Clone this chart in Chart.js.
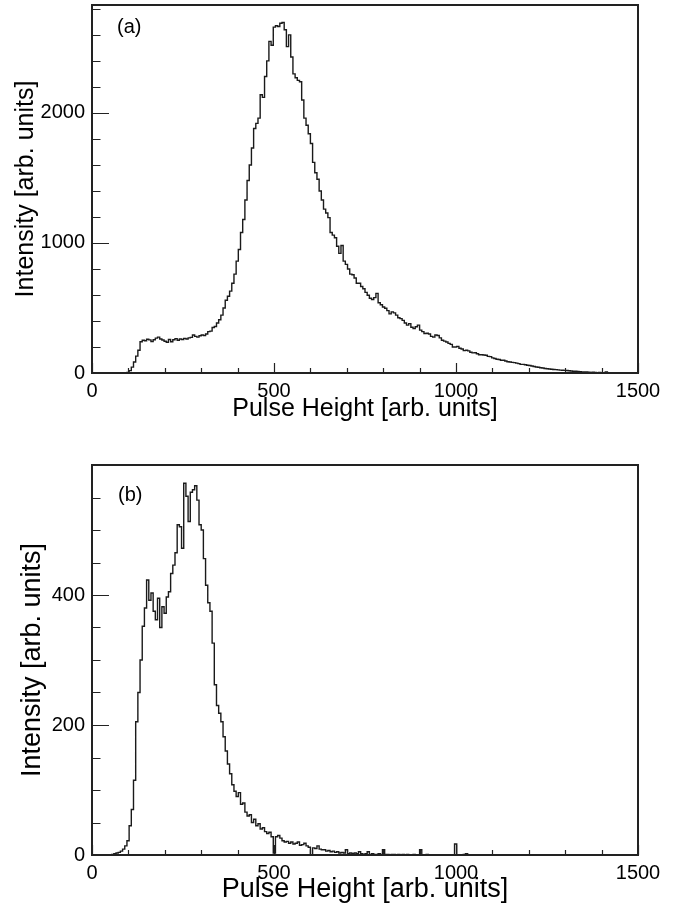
<!DOCTYPE html>
<html lang="en">
<head>
<meta charset="UTF-8">
<title>Pulse height spectra</title>
<script src="https://cdn.jsdelivr.net/npm/chart.js@4.4.0/dist/chart.umd.min.js"></script>
<style>
  html, body { margin: 0; padding: 0; background: #fff; }
  #wrap { position: relative; width: 679px; height: 906px; }
  canvas { position: absolute; left: 0; }
  #chartA { top: 0; }
  #chartB { top: 450px; }
</style>
</head>
<body>
<div id="wrap">
  <canvas id="chartA" width="679" height="450"></canvas>
  <canvas id="chartB" width="679" height="456"></canvas>
</div>
<script>
// histogram bins: 250 bins of 6 units from 0 to 1500
var binWidth = 6
var xTicks = [0, 500, 1000, 1500]
var yTicksA = [0, 1000, 2000]
var yTicksB = [0, 200, 400]

// panel (a) counts per bin
var countsA = [
  0, 0, 0, 0, 0, 0, 0, 0, 0, 0,
  0, 0, 0, 0, 0, 0, 4, 18, 45, 85,
  130, 175, 240, 252, 248, 260, 255, 242, 256, 268,
  276, 262, 254, 244, 236, 258, 240, 256, 264, 252,
  262, 258, 266, 262, 270, 274, 292, 282, 276, 286,
  292, 288, 300, 318, 322, 350, 358, 385, 410, 445,
  500, 560, 590, 630, 690, 760, 860, 950, 1080, 1180,
  1330, 1480, 1600, 1730, 1880, 1920, 1960, 2140, 2120, 2280,
  2400, 2550, 2520, 2660, 2670, 2665, 2690, 2695, 2640, 2510,
  2600, 2430, 2300, 2270, 2250, 2240, 2100, 1960, 1905, 1840,
  1765, 1620, 1540, 1490, 1400, 1330, 1260, 1230, 1195, 1080,
  1060, 1040, 975, 920, 980, 860, 835, 800, 760, 755,
  730, 690, 690, 665, 648, 620, 598, 575, 565, 580,
  612, 540, 525, 508, 498, 480, 455, 470, 462, 445,
  425, 418, 405, 385, 368, 380, 352, 342, 356, 368,
  330, 318, 304, 306, 300, 282, 276, 292, 288, 270,
  252, 245, 238, 228, 220, 200, 200, 205, 190, 184,
  172, 175, 170, 160, 155, 156, 148, 140, 140, 138,
  136, 128, 126, 116, 112, 106, 104, 98, 98, 92,
  86, 85, 82, 80, 76, 72, 66, 66, 64, 60,
  58, 54, 50, 46, 44, 40, 38, 35, 33, 31,
  29, 27, 26, 24, 22, 21, 20, 19, 17, 15,
  14, 13, 11, 10, 9, 8, 8, 6, 5, 6,
  4, 3, 4, 2, 3, 8, 2, 1, 1, 0,
  0, 0, 0, 0, 0, 0, 0, 0, 0, 0
]

// panel (b) counts per bin
var countsB = [
  0, 0, 0, 0, 0, 0, 0, 0, 0, 1,
  2, 3, 4, 6, 9, 14, 22, 45, 70, 115,
  205, 250, 300, 352, 380, 423, 392, 403, 375, 362,
  395, 350, 382, 372, 397, 405, 433, 446, 465, 508,
  505, 472, 572, 552, 513, 558, 562, 568, 546, 508,
  500, 456, 415, 388, 375, 326, 262, 230, 218, 205,
  182, 160, 140, 125, 108, 98, 90, 96, 78, 80,
  66, 60, 62, 50, 55, 45, 48, 40, 42, 36,
  33, 35, 28, 3, 28, 30, 26, 22, 20, 21,
  18, 20, 17, 18, 20, 15, 16, 18, 14, 12,
  0, 11, 10, 14, 9, 8, 8, 6, 7, 5,
  6, 4, 5, 3, 4, 3, 8, 2, 3, 2,
  3, 2, 5, 2, 1, 2, 5, 1, 2, 1,
  1, 2, 1, 8, 1, 1, 0, 1, 1, 0,
  1, 0, 1, 0, 1, 0, 0, 1, 0, 0,
  8, 0, 0, 1, 0, 0, 0, 0, 0, 0,
  0, 0, 0, 0, 0, 0, 17, 0, 0, 0,
  1, 2, 0, 0, 0, 0, 0, 0, 0, 0,
  0, 0, 0, 0, 0, 0, 0, 0, 0, 0,
  0, 0, 0, 0, 0, 0, 0, 0, 0, 0,
  0, 0, 0, 0, 0, 0, 0, 0, 0, 0,
  0, 0, 0, 0, 0, 0, 0, 0, 0, 0,
  0, 0, 0, 0, 0, 0, 0, 0, 0, 0,
  0, 0, 0, 0, 0, 0, 0, 0, 0, 0,
  0, 0, 0, 0, 0, 0, 0, 0, 0, 0
]

var fontFamily = '"Liberation Sans", Arial, Helvetica, sans-serif'

// points at the left edge of each bin, plus closing point at the last edge
function histPoints(counts) {
  var pts = counts.map(function (c, i) { return {x: i * binWidth, y: c} })
  pts.push({x: counts.length * binWidth, y: counts[counts.length - 1]})
  return pts
}

// ROOT style frame with inward ticks and the panel label
var frameTicks = {
  id: 'frameTicks',
  afterDraw: function (chart, args, o) {
    var ctx = chart.ctx, a = chart.chartArea
    var xs = chart.scales.x, ys = chart.scales.y
    ctx.save()
    ctx.strokeStyle = '#222'
    ctx.lineWidth = 1.2
    ctx.beginPath()
    for (var v = xs.min; v <= xs.max; v += o.xMinor) {
      var px = Math.round(xs.getPixelForValue(v)) + 0.5
      var len = v % o.xMajor === 0 ? o.xMajorLen : o.xMinorLen
      ctx.moveTo(px, a.bottom)
      ctx.lineTo(px, a.bottom - len)
    }
    for (var w = 0; w <= ys.max; w += o.yMinor) {
      var py = Math.round(ys.getPixelForValue(w)) + 0.5
      var l2 = w % o.yMajor === 0 ? o.yMajorLen : o.yMinorLen
      ctx.moveTo(a.left, py)
      ctx.lineTo(a.left + l2, py)
    }
    ctx.stroke()
    ctx.lineWidth = 2
    ctx.strokeRect(a.left, a.top, a.right - a.left, a.bottom - a.top)
    ctx.fillStyle = '#000'
    ctx.font = o.labelSize + 'px ' + fontFamily
    ctx.textBaseline = 'middle'
    ctx.fillText(o.label, a.left + o.labelX, a.top + o.labelY)
    ctx.restore()
  }
}

function makeChart(id, counts, cfg) {
  var ctx = document.getElementById(id).getContext('2d')
  return new Chart(ctx, {
    type: 'line',
    data: {
      datasets: [{
        data: histPoints(counts),
        stepped: 'before',
        borderColor: '#1a1a1a',
        borderWidth: 1.4,
        pointRadius: 0,
        fill: false
      }]
    },
    options: {
      responsive: false,
      animation: false,
      devicePixelRatio: 1,
      layout: {padding: {top: cfg.top, right: 41, left: 0, bottom: 0}},
      plugins: {
        legend: {display: false},
        tooltip: {enabled: false},
        frameTicks: {
          xMinor: 100, xMajor: 500, xMajorLen: 10, xMinorLen: 5,
          yMinor: cfg.yMinor, yMajor: cfg.yMajor, yMajorLen: 17, yMinorLen: 8.5,
          label: cfg.label, labelX: cfg.labelX, labelY: cfg.labelY, labelSize: 20
        }
      },
      scales: {
        x: {
          type: 'linear', min: 0, max: 1500,
          grid: {display: false, drawTicks: false},
          border: {display: false},
          afterBuildTicks: function (s) { s.ticks = xTicks.map(function (v) { return {value: v} }) },
          ticks: {padding: 6, color: '#000', autoSkip: false, maxRotation: 0,
                  font: {family: fontFamily, size: 20},
                  callback: function (v) { return String(v) }},
          title: {display: true, text: 'Pulse Height [arb. units]', color: '#000',
                  font: {family: fontFamily, size: cfg.titleSize},
                  padding: {top: 0, bottom: cfg.xTitlePad}},
          afterFit: function (s) { s.height = cfg.xHeight; s.paddingLeft = 0; s.paddingRight = 0 }
        },
        y: {
          type: 'linear', min: 0, max: cfg.yMax,
          grid: {display: false, drawTicks: false},
          border: {display: false},
          afterBuildTicks: function (s) { s.ticks = cfg.yTicks.map(function (v) { return {value: v} }) },
          ticks: {padding: 7, color: '#000', autoSkip: false,
                  font: {family: fontFamily, size: 20},
                  callback: function (v) { return String(v) }},
          title: {display: true, text: 'Intensity [arb. units]', color: '#000',
                  font: {family: fontFamily, size: cfg.titleSize},
                  padding: {top: cfg.yTitlePad, bottom: 0}},
          afterFit: function (s) { s.width = 92; s.paddingTop = 0; s.paddingBottom = 0 }
        }
      }
    },
    plugins: [frameTicks]
  })
}

makeChart('chartA', countsA, {
  top: 5, yMax: 2830, yTicks: yTicksA, yMinor: 200, yMajor: 1000,
  xHeight: 77, xTitlePad: 26, yTitlePad: 11, titleSize: 25,
  label: '(a)', labelX: 25, labelY: 22
})
makeChart('chartB', countsB, {
  top: 15, yMax: 600, yTicks: yTicksB, yMinor: 50, yMajor: 200,
  xHeight: 51, xTitlePad: 0, yTitlePad: 16, titleSize: 27,
  label: '(b)', labelX: 26, labelY: 30
})
</script>
</body>
</html>
